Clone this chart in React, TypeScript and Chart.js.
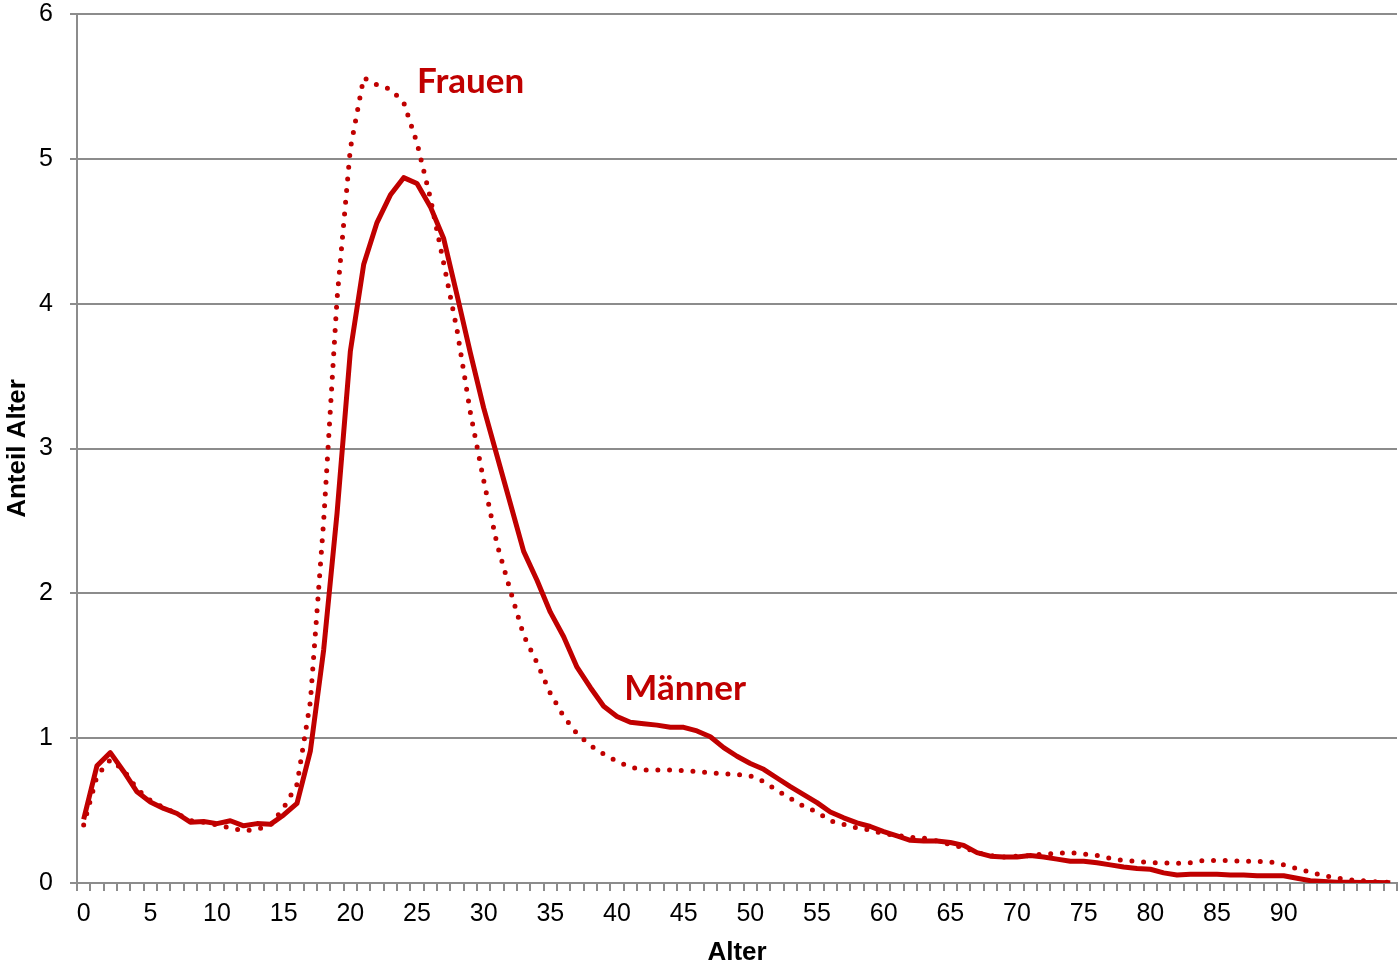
import React, { useEffect, useRef } from "react";
import { Chart, registerables } from "chart.js";

Chart.register(...registerables);

// Ages 0..98 (category axis)
const ages: number[] = Array.from({ length: 99 }, (_, i) => i);
const shownXTicks: number[] = [0, 5, 10, 15, 20, 25, 30, 35, 40, 45, 50, 55, 60, 65, 70, 75, 80, 85, 90];
const yTicks: number[] = [0, 1, 2, 3, 4, 5, 6];

const maenner: number[] = [
  0.44, 0.81, 0.9, 0.77, 0.63, 0.56, 0.515, 0.48, 0.42, 0.425,
  0.41, 0.43, 0.395, 0.41, 0.405, 0.47, 0.55, 0.91, 1.61, 2.55,
  3.67, 4.27, 4.56, 4.75, 4.87, 4.83, 4.67, 4.45, 4.06, 3.66,
  3.28, 2.95, 2.62, 2.29, 2.09, 1.87, 1.7, 1.49, 1.35, 1.22,
  1.15, 1.11, 1.1, 1.09, 1.075, 1.075, 1.05, 1.01, 0.935, 0.875,
  0.825, 0.785, 0.725, 0.665, 0.61, 0.555, 0.49, 0.45, 0.415, 0.39,
  0.355, 0.325, 0.295, 0.29, 0.29, 0.28, 0.26, 0.21, 0.185, 0.18,
  0.18, 0.19, 0.18, 0.165, 0.15, 0.15, 0.14, 0.125, 0.11, 0.1,
  0.095, 0.07, 0.055, 0.06, 0.06, 0.06, 0.055, 0.055, 0.05, 0.05,
  0.05, 0.033, 0.016, 0.01, 0.006, 0.005, 0.004, 0.003, 0.002,
];

const frauen: number[] = [
  0.4, 0.74, 0.85, 0.78, 0.65, 0.57, 0.52, 0.48, 0.43, 0.42,
  0.4, 0.38, 0.36, 0.37, 0.4, 0.52, 0.68, 1.25, 2.5, 4.03,
  5.07, 5.56, 5.51, 5.48, 5.39, 5.11, 4.73, 4.28, 3.82, 3.25,
  2.78, 2.34, 2.02, 1.71, 1.52, 1.31, 1.15, 1.03, 0.95, 0.89,
  0.84, 0.8, 0.78, 0.78, 0.78, 0.775, 0.77, 0.76, 0.755, 0.75,
  0.74, 0.7, 0.64, 0.585, 0.53, 0.49, 0.43, 0.405, 0.38, 0.365,
  0.34, 0.33, 0.315, 0.31, 0.29, 0.265, 0.245, 0.21, 0.19, 0.18,
  0.185, 0.19, 0.2, 0.205, 0.21, 0.2, 0.19, 0.17, 0.155, 0.15,
  0.14, 0.14, 0.135, 0.14, 0.155, 0.155, 0.155, 0.15, 0.15, 0.145,
  0.125, 0.1, 0.075, 0.05, 0.035, 0.022, 0.015, 0.008, 0.004,
];

const seriesNames: string[] = ["Frauen", "Männer"];
// label anchors in data space: [category index, value at text baseline]
const labelAnchors: [number, number][] = [
  [25.0, 5.453],
  [40.55, 1.264],
];

const RED = "#c00000";
const GRID = "#8c8c8c";
const FONT = "'Liberation Sans', Arial, sans-serif";

const seriesLabelPlugin = {
  id: "seriesLabels",
  afterDatasetsDraw(chart: any) {
    const { ctx, scales } = chart;
    ctx.save();
    ctx.fillStyle = RED;
    ctx.font = "bold 35px Lato, 'Open Sans', sans-serif";
    ctx.textAlign = "left";
    ctx.textBaseline = "alphabetic";
    seriesNames.forEach((name, i) => {
      const [xi, yv] = labelAnchors[i];
      const x = scales.x.getPixelForValue(xi);
      const y = scales.y.getPixelForValue(yv);
      ctx.fillText(name, x, y);
    });
    ctx.restore();
  },
};

export default function App() {
  const ref = useRef<HTMLCanvasElement | null>(null);

  useEffect(() => {
    if (!ref.current) return;
    Chart.defaults.font.family = FONT;
    const chart = new Chart(ref.current, {
      type: "line",
      data: {
        labels: ages.map(String),
        datasets: [
          {
            label: seriesNames[0],
            data: frauen,
            borderColor: RED,
            backgroundColor: RED,
            borderWidth: 5,
            borderDash: [0, 11.7],
            borderCapStyle: "round",
            borderJoinStyle: "round",
            pointRadius: 0,
            tension: 0,
          },
          {
            label: seriesNames[1],
            data: maenner,
            borderColor: RED,
            backgroundColor: RED,
            borderWidth: 5,
            borderJoinStyle: "round",
            pointRadius: 0,
            tension: 0,
          },
        ],
      },
      options: {
        responsive: false,
        animation: false,
        devicePixelRatio: 1,
        layout: { padding: { left: 0, right: 1, top: 0, bottom: 0 } },
        plugins: {
          legend: { display: false },
          tooltip: { enabled: false },
        },
        scales: {
          x: {
            type: "category",
            offset: true,
            grid: {
              offset: true,
              drawOnChartArea: false,
              drawTicks: true,
              tickLength: 8,
              color: GRID,
              lineWidth: 2,
            },
            border: { display: true, color: GRID, width: 2 },
            ticks: {
              autoSkip: false,
              maxRotation: 0,
              minRotation: 0,
              padding: 8,
              color: "#000",
              font: { size: 25, family: FONT },
              callback: (_v: any, i: number) =>
                shownXTicks.includes(ages[i]) ? String(ages[i]) : "",
            },
            title: {
              display: true,
              text: "Alter",
              color: "#000",
              font: { size: 26, weight: "bold", family: FONT },
              padding: { top: 0, bottom: 1 },
            },
            afterFit: (s: any) => {
              s.height = 86;
              s.paddingLeft = 0;
              s.paddingRight = 0;
            },
          },
          y: {
            min: 0,
            max: 6,
            afterBuildTicks: (s: any) => {
              s.ticks = yTicks.map((v) => ({ value: v }));
            },
            grid: {
              color: GRID,
              lineWidth: 2,
              drawTicks: true,
              tickLength: 7,
            },
            border: { display: true, color: GRID, width: 2 },
            ticks: {
              padding: 17,
              color: "#000",
              font: { size: 25, family: FONT },
            },
            title: {
              display: true,
              text: "Anteil Alter",
              color: "#000",
              font: { size: 26, weight: "bold", family: FONT },
              padding: { top: 2, bottom: 0 },
            },
            afterFit: (s: any) => {
              s.width = 77;
              s.paddingTop = 14;
              s.paddingBottom = 0;
            },
          },
        },
      },
      plugins: [seriesLabelPlugin],
    });
    return () => chart.destroy();
  }, []);

  return (
    <div style={{ position: "fixed", left: 0, top: 0, width: 1398, height: 969, background: "#fff" }}>
      <canvas ref={ref} width={1398} height={969} style={{ display: "block" }} />
    </div>
  );
}
